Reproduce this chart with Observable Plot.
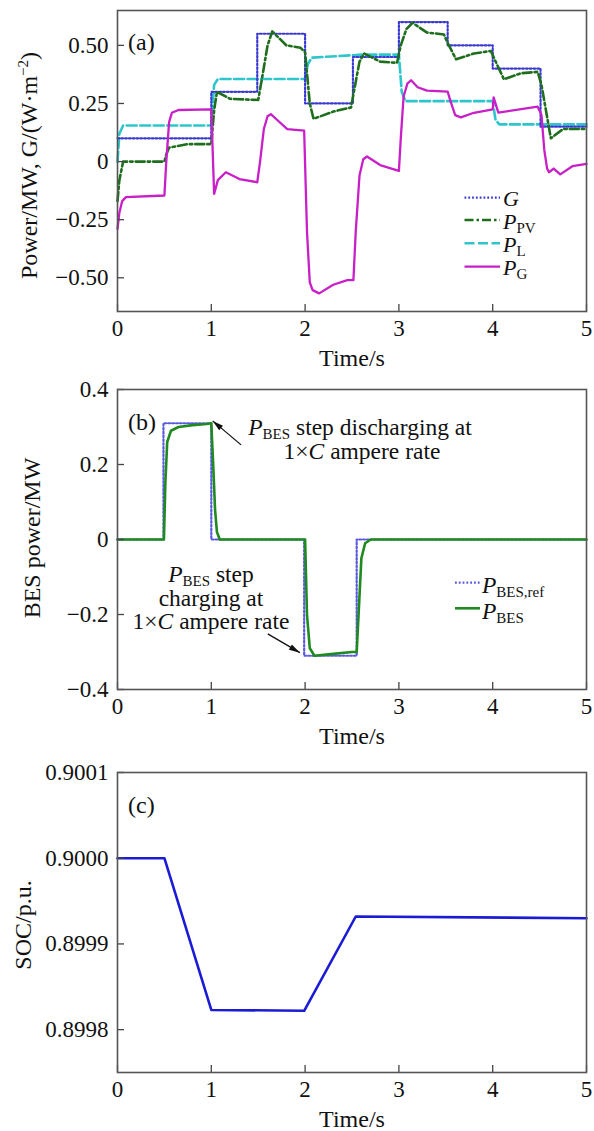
<!DOCTYPE html>
<html><head><meta charset="utf-8">
<script src="https://cdn.jsdelivr.net/npm/d3@7"></script>
<script src="https://cdn.jsdelivr.net/npm/@observablehq/plot@0.6"></script>
<style>
body{margin:0;background:#fff;}
#chart{width:594px;}
#chart svg{display:block;}
</style></head><body><div id="chart"></div>
<script>
const FONT = "'Liberation Serif', 'Times New Roman', Times, serif";

// ---- ticks ----
const timeTicks = [0, 1, 2, 3, 4, 5];
const timeTickLabels = ["0", "1", "2", "3", "4", "5"];
const aTicks = [-0.5, -0.25, 0, 0.25, 0.5];
const aTickLabels = ["−0.50", "−0.25", "0", "0.25", "0.50"];
const bTicks = [-0.4, -0.2, 0, 0.2, 0.4];
const bTickLabels = ["−0.4", "−0.2", "0", "0.2", "0.4"];
const cTicks = [0.8998, 0.8999, 0.9000, 0.9001];
const cTickLabels = ["0.8998", "0.8999", "0.9000", "0.9001"];

// ---- panel (a) series ----
const gT = [0, 1, 1.49, 2, 2.51, 3, 3.52, 4, 4.51, 5];
const gV = [0.1, 0.3, 0.55, 0.25, 0.45, 0.6, 0.5, 0.4, 0.15, 0.15];

const plT = [0, 0.02, 0.06, 1.0, 1.03, 1.07, 2.0, 2.03, 2.07, 2.6, 3.0, 3.03, 3.07, 4.0, 4.03, 4.07, 5];
const plV = [0, 0.12, 0.155, 0.155, 0.33, 0.355, 0.355, 0.42, 0.447, 0.46, 0.46, 0.3, 0.26, 0.26, 0.18, 0.16, 0.16];

const ppvT = [0, 0.02, 0.06, 0.5, 0.52, 0.55, 0.75, 1.0, 1.03, 1.06, 1.2, 1.5, 1.55, 1.6, 1.65, 1.8, 1.95, 2.0, 2.05, 2.09, 2.3, 2.49, 2.52, 2.58, 2.63, 2.8, 2.98, 3.02, 3.08, 3.145, 3.3, 3.48, 3.52, 3.61, 3.8, 3.98, 4.02, 4.12, 4.3, 4.48, 4.52, 4.62, 4.75, 5];
const ppvV = [-0.17, -0.08, 0, 0, 0.03, 0.06, 0.075, 0.075, 0.22, 0.3, 0.27, 0.265, 0.38, 0.5, 0.56, 0.5, 0.49, 0.47, 0.25, 0.184, 0.215, 0.233, 0.3, 0.43, 0.465, 0.43, 0.425, 0.5, 0.57, 0.597, 0.555, 0.547, 0.51, 0.44, 0.465, 0.476, 0.44, 0.354, 0.38, 0.386, 0.33, 0.1, 0.14, 0.14];

const pgT = [0, 0.02, 0.05, 0.09, 0.5, 0.52, 0.55, 0.58, 0.65, 1.0, 1.03, 1.07, 1.155, 1.3, 1.49, 1.52, 1.56, 1.6, 1.635, 1.7, 1.81, 1.99, 2.02, 2.05, 2.08, 2.15, 2.3, 2.45, 2.515, 2.54, 2.58, 2.62, 2.66, 2.8, 3.0, 3.02, 3.05, 3.09, 3.13, 3.2, 3.3, 3.52, 3.55, 3.6, 3.66, 3.8, 4.0, 4.01, 4.06, 4.48, 4.52, 4.55, 4.58, 4.6, 4.65, 4.72, 4.85, 5];
const pgV = [-0.29, -0.22, -0.17, -0.153, -0.146, 0.0, 0.17, 0.21, 0.222, 0.225, -0.139, -0.08, -0.046, -0.075, -0.089, 0.0, 0.14, 0.195, 0.204, 0.18, 0.14, 0.133, -0.3, -0.52, -0.553, -0.567, -0.53, -0.51, -0.51, -0.3, -0.06, 0.01, 0.022, -0.015, -0.04, 0.1, 0.28, 0.335, 0.35, 0.32, 0.305, 0.301, 0.26, 0.2, 0.19, 0.21, 0.225, 0.276, 0.211, 0.236, 0.2, 0.05, -0.03, -0.046, -0.03, -0.055, -0.02, -0.01];

// ---- panel (b) series ----
const refT = [0, 0.49, 1.0, 1.99, 2.55, 5];
const refV = [0, 0.31, 0, -0.31, 0, 0];
const besT = [0, 0.495, 0.51, 0.53, 0.57, 0.65, 0.8, 0.95, 1.0, 1.02, 1.04, 1.06, 1.09, 2.0, 2.02, 2.05, 2.1, 2.3, 2.5, 2.55, 2.58, 2.6, 2.64, 2.7, 5];
const besV = [0, 0, 0.15, 0.26, 0.29, 0.3, 0.305, 0.308, 0.31, 0.2, 0.08, 0.02, 0, 0, -0.2, -0.29, -0.31, -0.305, -0.3, -0.3, -0.15, -0.05, -0.01, 0, 0];

// ---- panel (c) series ----
const socT = [0, 0.5, 1.0, 1.99, 2.54, 5];
const socV = [0.9, 0.9, 0.899823, 0.899822, 0.899932, 0.89993];

const rows = (T, V) => T.map((t, i) => ({t, v: V[i]}));

function richText(g, x, y, parts, o = {}) {
  const t = g.append("text").attr("x", x).attr("y", y)
    .attr("font-family", FONT).attr("font-size", o.size || 24)
    .attr("text-anchor", o.anchor || "start").attr("fill", "#111");
  if (o.transform) t.attr("transform", o.transform);
  let shift = 0;
  for (const p of parts) {
    const s = t.append("tspan").text(p.t);
    if (p.i) s.attr("font-style", "italic");
    const want = p.sub ? 4 : p.sup ? -9 : 0;
    if (want !== shift) { s.attr("dy", want - shift); shift = want; }
    if (p.sub || p.sup) s.attr("font-size", o.subSize || 15);
  }
  return t;
}

function arrowHead(g, x1, y1, x2, y2) {
  g.append("line").attr("x1", x1).attr("y1", y1).attr("x2", x2).attr("y2", y2)
    .attr("stroke", "#111").attr("stroke-width", 1.3);
  const a = Math.atan2(y2 - y1, x2 - x1), L = 11, W = 3;
  const bx = x2 - L * Math.cos(a), by = y2 - L * Math.sin(a);
  const px = -Math.sin(a) * W, py = Math.cos(a) * W;
  g.append("polygon").attr("points", `${x2},${y2} ${bx + px},${by + py} ${bx - px},${by - py}`).attr("fill", "#111");
}

function panel({height, mt, mb, yDomain, yTicks, yLabels, lines, extra}) {
  const frameH = height - mt - mb, frameW = 594 - 117 - 8;
  return Plot.plot({
    width: 594, height, marginLeft: 117, marginRight: 8, marginTop: mt, marginBottom: mb,
    x: {domain: [0, 5], axis: null},
    y: {domain: yDomain, axis: null},
    style: {fontFamily: FONT, background: "white", overflow: "visible"},
    marks: [
      ...lines,
      Plot.ruleX(timeTicks, {x: d => d, insetTop: frameH - 7, stroke: "#444", strokeWidth: 1.3}),
      Plot.ruleY(yTicks, {y: d => d, insetRight: frameW - 7, stroke: "#444", strokeWidth: 1.3}),
      Plot.frame({stroke: "#555", strokeWidth: 1.6}),
      Plot.text(timeTicks, {x: d => d, text: (d, i) => timeTickLabels[i], frameAnchor: "bottom", dy: 17, fontSize: 23, fontFamily: FONT, lineAnchor: "middle", fill: "#111"}),
      Plot.text(yTicks, {y: d => d, text: (d, i) => yLabels[i], frameAnchor: "left", dx: -9, textAnchor: "end", fontSize: 23, fontFamily: FONT, lineAnchor: "middle", fill: "#111"}),
      Plot.text(["Time/s"], {frameAnchor: "bottom", dy: 47, fontSize: 24, fontFamily: FONT, lineAnchor: "middle", fill: "#111"}),
      extra
    ]
  });
}

const blue = "#3a3ad2", green = "#1e6e1e", cyan = "#2ec6cc", magenta = "#c81fc8";

// ---------- (a) ----------
const plotA = panel({
  height: 380, mt: 10, mb: 69, yDomain: [-0.645, 0.65], yTicks: aTicks, yLabels: aTickLabels,
  lines: [
    Plot.line(rows(plT, plV), {x: "t", y: "v", stroke: cyan, strokeWidth: 2.6, strokeDasharray: "10 3.5"}),
    Plot.line(rows(gT, gV), {x: "t", y: "v", curve: "step-after", stroke: blue, strokeWidth: 2.2, strokeDasharray: "1.8 2"}),
    Plot.line(rows(ppvT, ppvV), {x: "t", y: "v", stroke: green, strokeWidth: 2.6, strokeDasharray: "9 3 2.5 3"}),
    Plot.line(rows(pgT, pgV), {x: "t", y: "v", stroke: magenta, strokeWidth: 2.3})
  ],
  extra: (index, scales, values, dims) => {
    const g = d3.create("svg:g");
    const T = dims.marginTop, B = dims.height - dims.marginBottom;
    richText(g, 0, 0, [{t: "Power/MW, G/(W·m"}, {t: "−2", sup: true}, {t: ")"}],
      {anchor: "middle", transform: `translate(37,${(T + B) / 2 + 5}) rotate(-90)`, subSize: 15});
    richText(g, 128, T + 40, [{t: "(a)"}]);
    const items = [
      {y: 197.7, color: blue, w: 2.2, dash: "1.8 2", parts: [{t: "G", i: true}]},
      {y: 220, color: green, w: 2.6, dash: "9 3 2.5 3", parts: [{t: "P", i: true}, {t: "PV", sub: true}]},
      {y: 243.3, color: cyan, w: 2.6, dash: "10 3.5", parts: [{t: "P", i: true}, {t: "L", sub: true}]},
      {y: 266.7, color: magenta, w: 2.3, dash: null, parts: [{t: "P", i: true}, {t: "G", sub: true}]}
    ];
    for (const it of items) {
      const l = g.append("line").attr("x1", 464.5).attr("x2", 500).attr("y1", it.y).attr("y2", it.y)
        .attr("stroke", it.color).attr("stroke-width", it.w);
      if (it.dash) l.attr("stroke-dasharray", it.dash);
      richText(g, 503, it.y + 8.5, it.parts, {size: 22});
    }
    return g.node();
  }
});

// ---------- (b) ----------
const bGreen = "#1f8a1f", bBlue = "#5a5ae0";
const plotB = panel({
  height: 380, mt: 9, mb: 71, yDomain: [-0.4, 0.4], yTicks: bTicks, yLabels: bTickLabels,
  lines: [
    Plot.line(rows(refT, refV), {x: "t", y: "v", curve: "step-after", stroke: bBlue, strokeWidth: 2.2, strokeDasharray: "1.8 2"}),
    Plot.line(rows(besT, besV), {x: "t", y: "v", stroke: bGreen, strokeWidth: 2.6})
  ],
  extra: (index, scales, values, dims) => {
    const g = d3.create("svg:g");
    const sx = scales.x, sy = scales.y;
    const T = dims.marginTop, B = dims.height - dims.marginBottom;
    richText(g, 0, 0, [{t: "BES power/MW"}], {anchor: "middle", transform: `translate(40,${(T + B) / 2 - 1}) rotate(-90)`});
    richText(g, 128, T + 41, [{t: "(b)"}]);
    richText(g, 360, 55, [{t: "P", i: true}, {t: "BES", sub: true}, {t: " step discharging at"}], {anchor: "middle", size: 23.5});
    richText(g, 362, 78.5, [{t: "1×"}, {t: "C", i: true}, {t: " ampere rate"}], {anchor: "middle", size: 23.5});
    richText(g, 211, 202, [{t: "P", i: true}, {t: "BES", sub: true}, {t: " step"}], {anchor: "middle", size: 23.5});
    richText(g, 211, 226, [{t: "charging at"}], {anchor: "middle", size: 23.5});
    richText(g, 211, 249, [{t: "1×"}, {t: "C", i: true}, {t: " ampere rate"}], {anchor: "middle", size: 23.5});
    arrowHead(g, sx(1.323), sy(0.251), sx(1.02), sy(0.315));
    arrowHead(g, sx(1.607), sy(-0.253), sx(1.95), sy(-0.303));
    g.append("line").attr("x1", 455).attr("x2", 480).attr("y1", 202.7).attr("y2", 202.7)
      .attr("stroke", bBlue).attr("stroke-width", 2.2).attr("stroke-dasharray", "1.8 2");
    g.append("line").attr("x1", 455).attr("x2", 480).attr("y1", 228.3).attr("y2", 228.3)
      .attr("stroke", bGreen).attr("stroke-width", 2.6);
    richText(g, 482, 213, [{t: "P", i: true}, {t: "BES,ref", sub: true}], {size: 23.5});
    richText(g, 482, 238.5, [{t: "P", i: true}, {t: "BES", sub: true}], {size: 23.5});
    return g.node();
  }
});

// ---------- (c) ----------
const plotC = panel({
  height: 371, mt: 12, mb: 59, yDomain: [0.89975, 0.9001], yTicks: cTicks, yLabels: cTickLabels,
  lines: [
    Plot.line(rows(socT, socV), {x: "t", y: "v", stroke: "#1b1bd6", strokeWidth: 2.6})
  ],
  extra: (index, scales, values, dims) => {
    const g = d3.create("svg:g");
    const T = dims.marginTop, B = dims.height - dims.marginBottom;
    richText(g, 0, 0, [{t: "SOC/p.u."}], {anchor: "middle", transform: `translate(31,${(T + B) / 2 + 3}) rotate(-90)`});
    richText(g, 128, T + 41, [{t: "(c)"}]);
    return g.node();
  }
});

const root = document.getElementById("chart");
root.append(plotA, plotB, plotC);
</script></body></html>
